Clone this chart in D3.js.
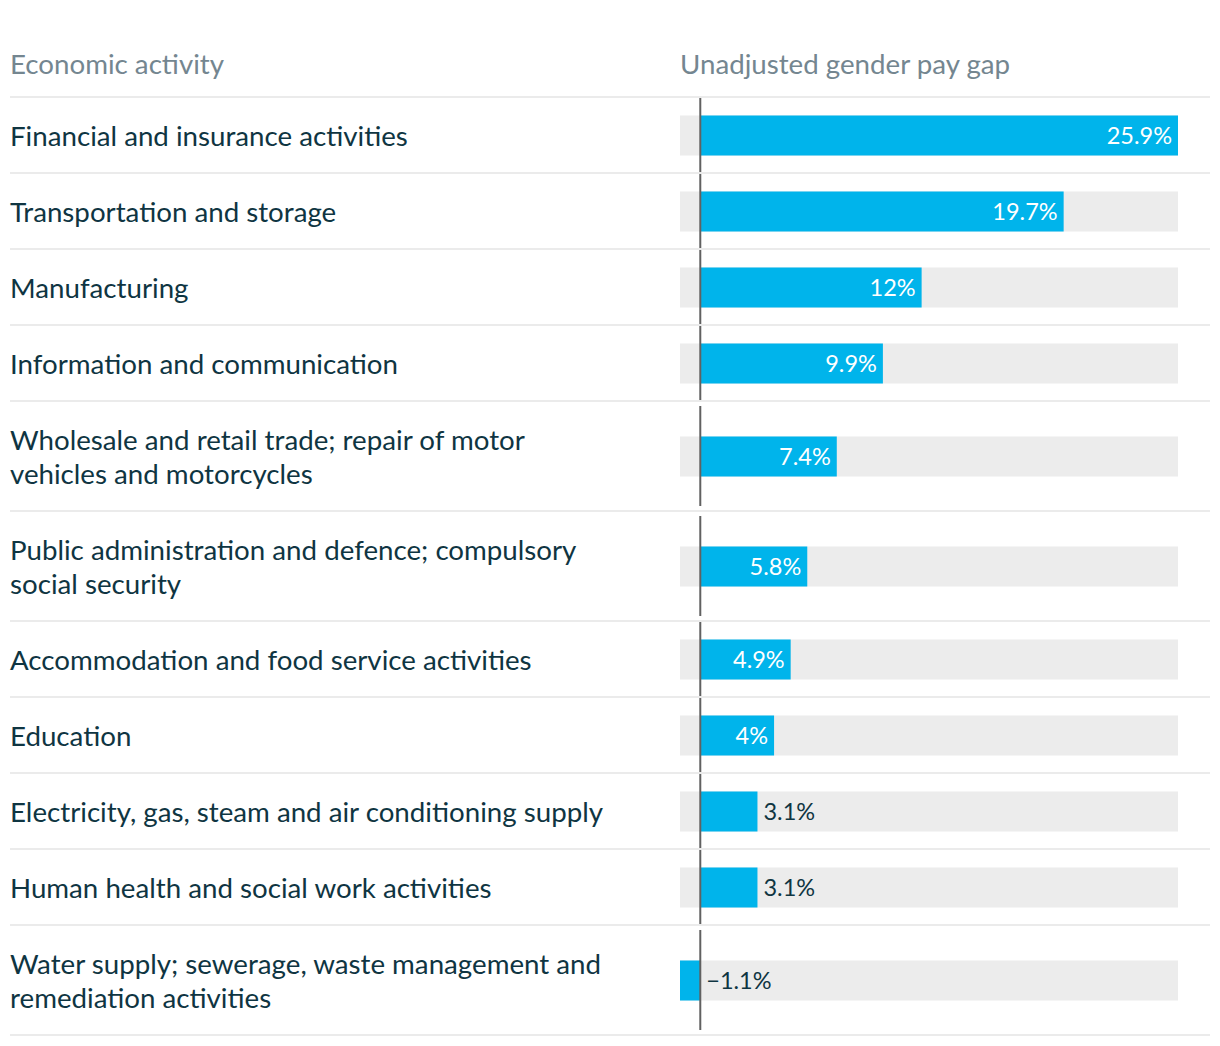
<!DOCTYPE html>
<html><head><meta charset="utf-8">
<script src="https://cdn.jsdelivr.net/npm/d3@7"></script>
<style>
html,body{margin:0;padding:0;background:#fff;}
svg{display:block;font-family:Lato,"Noto Sans",sans-serif;}
</style></head>
<body><svg id="chart" width="1220" height="1046"></svg>
<script>
const categories = [
  "Financial and insurance activities",
  "Transportation and storage",
  "Manufacturing",
  "Information and communication",
  "Wholesale and retail trade; repair of motor vehicles and motorcycles",
  "Public administration and defence; compulsory social security",
  "Accommodation and food service activities",
  "Education",
  "Electricity, gas, steam and air conditioning supply",
  "Human health and social work activities",
  "Water supply; sewerage, waste management and remediation activities"
];
const values = [25.9, 19.7, 12, 9.9, 7.4, 5.8, 4.9, 4, 3.1, 3.1, -1.1];
const headers = ["Economic activity", "Unadjusted gender pay gap"];

const svg = d3.select("#chart");
const textColor = "#0f3542";
const headColor = "#748690";
const barColor = "#00b4eb";
const bgColor = "#ececec";
const sepColor = "#ebebeb";
const left = 10, right = 1210;
const barX0 = 680, barX1 = 1178;
const labelMaxW = 604;
const fontSize = 27.7, lineH = 34, valSize = 23.5;

const x = d3.scaleLinear().domain([d3.min(values), d3.max(values)]).range([barX0, barX1]);
const fmt = v => d3.format("")(v) + "%";

svg.append("text").attr("x", left).attr("y", 74).attr("fill", headColor)
  .attr("font-size", fontSize).text(headers[0]);
svg.append("text").attr("x", barX0).attr("y", 74).attr("fill", headColor)
  .attr("font-size", fontSize).text(headers[1]);

// measure & wrap
const meas = svg.append("text").attr("font-size", fontSize).attr("visibility", "hidden");
function wrap(str) {
  const words = str.split(" ");
  const lines = []; let cur = "";
  words.forEach(w => {
    const t = cur ? cur + " " + w : w;
    meas.text(t);
    if (meas.node().getComputedTextLength() > labelMaxW && cur) { lines.push(cur); cur = w; }
    else cur = t;
  });
  lines.push(cur);
  return lines;
}
const rows = categories.map((c, i) => ({ cat: c, val: values[i], lines: wrap(c) }));
meas.remove();

let y = 97;
rows.forEach(r => { r.top = y; r.h = 42 + lineH * r.lines.length; y += r.h; r.bottom = y; r.cy = r.top + r.h / 2; });

// separators
const seps = [rows[0].top].concat(rows.map(r => r.bottom));
svg.append("g").selectAll("line").data(seps).join("line")
  .attr("x1", left).attr("x2", right).attr("y1", d => d).attr("y2", d => d)
  .attr("stroke", sepColor).attr("stroke-width", 2);

const g = svg.append("g").selectAll("g").data(rows).join("g");

// category labels
g.append("text").attr("fill", textColor).attr("font-size", fontSize)
  .selectAll("tspan").data(d => d.lines.map((l, k) => ({ l, k, d }))).join("tspan")
  .attr("x", left)
  .attr("y", o => o.d.cy + 10.5 + (o.k - (o.d.lines.length - 1) / 2) * lineH)
  .text(o => o.l);

// background bars
g.append("rect").attr("x", barX0).attr("width", barX1 - barX0)
  .attr("y", d => d.cy - 19.5).attr("height", 40).attr("fill", bgColor);

// value bars
g.append("rect")
  .attr("x", d => Math.min(x(0), x(d.val)))
  .attr("width", d => Math.abs(x(d.val) - x(0)))
  .attr("y", d => d.cy - 19.5).attr("height", 40).attr("fill", barColor);

// zero line
g.append("line").attr("x1", x(0)).attr("x2", x(0))
  .attr("y1", d => Math.max(d.top + 1, d.cy - 50))
  .attr("y2", d => Math.min(d.bottom - 1, d.cy + 50))
  .attr("stroke", "#616161").attr("stroke-width", 2);

// value labels
g.each(function(d) {
  const sel = d3.select(this);
  const t = sel.append("text").attr("font-size", valSize).attr("y", d.cy + 9).text(fmt(d.val));
  const tw = t.node().getComputedTextLength();
  const bw = Math.abs(x(d.val) - x(0));
  if (d.val > 0 && bw > tw + 12) {
    t.attr("x", x(d.val) - 6).attr("text-anchor", "end").attr("fill", "#fff");
  } else {
    t.attr("x", Math.max(x(d.val), x(0)) + 6).attr("text-anchor", "start").attr("fill", textColor);
  }
});
</script></body></html>
